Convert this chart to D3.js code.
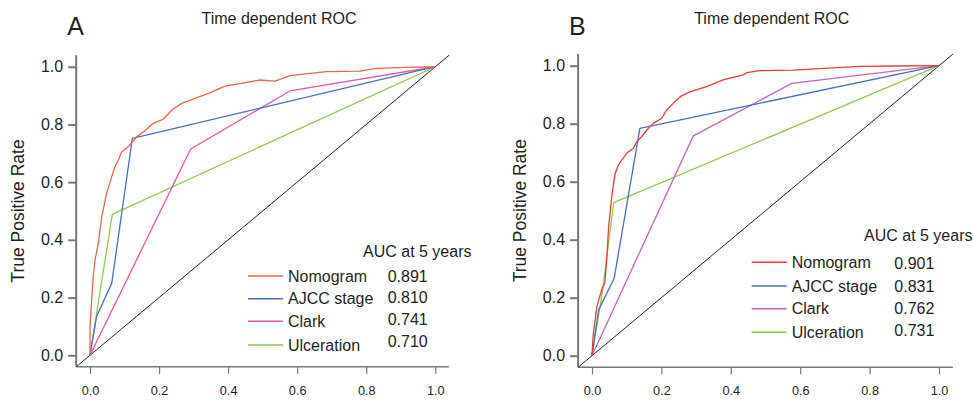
<!DOCTYPE html>
<html>
<head>
<meta charset="utf-8">
<script src="https://cdn.jsdelivr.net/npm/d3@7"></script>
<style>
  body { margin: 0; background: #fff; }
  svg { display: block; font-family: "Liberation Sans", Arial, sans-serif; }
</style>
</head>
<body>
<svg id="chart" width="973" height="401"></svg>
<script>
// Daten: [FPR, TPR] Paare
const nomogramA = [[0,0],[0,0.099],[0.0048,0.192],[0.0097,0.278],[0.0145,0.330],[0.024,0.388],[0.034,0.480],
  [0.048,0.561],[0.063,0.619],[0.072,0.653],[0.082,0.677],[0.092,0.705],[0.111,0.723],[0.135,0.757],
  [0.159,0.778],[0.183,0.804],[0.212,0.818],[0.237,0.850],[0.266,0.873],[0.304,0.890],[0.343,0.908],
  [0.391,0.933],[0.439,0.942],[0.492,0.954],[0.536,0.950],[0.579,0.969],[0.685,0.983],[0.782,0.985],
  [0.830,0.994],[0.917,0.998],[1,1]];
const ajccA = [[0,0],[0.019,0.134],[0.063,0.250],[0.1226,0.752],[1,1]];
const clarkA = [[0,0],[0.2916,0.7148],[0.579,0.916],[1,1]];
const ulcerA = [[0,0],[0.0646,0.4886],[1,1]];

const nomogramB = [[0,0],[0.003,0.066],[0.008,0.112],[0.014,0.169],[0.029,0.232],[0.037,0.250],[0.043,0.341],
  [0.048,0.445],[0.058,0.560],[0.067,0.629],[0.077,0.660],[0.086,0.675],[0.100,0.698],[0.119,0.715],
  [0.129,0.738],[0.143,0.755],[0.158,0.778],[0.177,0.801],[0.201,0.819],[0.215,0.847],[0.239,0.876],
  [0.258,0.896],[0.282,0.910],[0.330,0.928],[0.378,0.951],[0.436,0.968],[0.446,0.976],[0.484,0.983],
  [0.580,0.985],[0.772,0.998],[0.868,0.999],[1,1]];
const ajccB = [[0,0],[0.019,0.158],[0.064,0.267],[0.138,0.784],[1,1]];
const clarkB = [[0,0],[0.292,0.758],[0.5755,0.939],[1,1]];
const ulcerB = [[0,0],[0.030,0.220],[0.0625,0.528],[1,1]];

const seriesNames = ["Nomogram", "AJCC stage", "Clark", "Ulceration"];
const aucA = ["0.891", "0.810", "0.741", "0.710"];
const aucB = ["0.901", "0.831", "0.762", "0.731"];
const tickValues = [0, 0.2, 0.4, 0.6, 0.8, 1.0];

const svg = d3.select("#chart");
const textColor = "#231f20";
const axisColor = "#777";

function drawPanel(cfg) {
    const x = d3.scaleLinear().domain([-0.04, 1.04]).range([cfg.left, cfg.right]);
    const y = d3.scaleLinear().domain([-0.04, 1.04]).range([cfg.bottom, cfg.top]);
    const g = svg.append("g");

    // Buchstabe und Titel
    g.append("text").attr("x", cfg.left - 9).attr("y", 35)
        .style("font-size", "25px").style("fill", textColor).text(cfg.letter);
    g.append("text").attr("x", cfg.titleX).attr("y", 24).attr("text-anchor", "middle")
        .style("font-size", "16px").style("fill", textColor).text("Time dependent ROC");

    // Y-Achse
    const yAxis = g.append("g").attr("transform", `translate(${cfg.left},0)`)
        .call(d3.axisLeft(y).tickValues(tickValues).tickFormat(d3.format(".1f")).tickSize(8).tickPadding(5));
    yAxis.select(".domain").remove();
    yAxis.selectAll("line").style("stroke", axisColor).style("stroke-width", 2);
    yAxis.selectAll("text").style("font-size", "16px").style("fill", textColor)
        .style("font-family", "Liberation Sans, Arial, sans-serif");

    // X-Achse
    const xAxis = g.append("g").attr("transform", `translate(0,${cfg.bottom})`)
        .call(d3.axisBottom(x).tickValues(tickValues).tickFormat(d3.format(".1f")).tickSize(7).tickPadding(12));
    xAxis.select(".domain").remove();
    xAxis.selectAll("line").style("stroke", axisColor).style("stroke-width", 1.2);
    xAxis.selectAll("text").style("font-size", "12.7px").style("fill", textColor)
        .style("font-family", "Liberation Sans, Arial, sans-serif");

    // Achsenlinien (L-Form)
    g.append("line").attr("x1", cfg.left).attr("x2", cfg.left).attr("y1", cfg.top).attr("y2", cfg.bottom)
        .style("stroke", axisColor).style("stroke-width", 2);
    g.append("line").attr("x1", cfg.left).attr("x2", cfg.right).attr("y1", cfg.bottom).attr("y2", cfg.bottom)
        .style("stroke", axisColor).style("stroke-width", 1.5);

    // Y-Beschriftung
    g.append("text")
        .attr("transform", `translate(${cfg.left - 58},${(cfg.top + cfg.bottom) / 2}) rotate(-90)`)
        .attr("text-anchor", "middle").attr("dy", "0.35em")
        .style("font-size", "17.5px").style("fill", textColor).text("True Positive Rate");

    // Diagonale
    g.append("line").attr("x1", x(-0.04)).attr("y1", y(-0.04)).attr("x2", x(1.04)).attr("y2", y(1.04))
        .style("stroke", "#222").style("stroke-width", 1);

    const line = d3.line().x(d => x(d[0])).y(d => y(d[1]));

    // Kurven (Ulceration zuerst, Nomogram oben)
    const order = [3, 2, 1, 0];
    order.forEach(i => {
        g.append("path").datum(cfg.series[i]).attr("d", line)
            .style("fill", "none").style("stroke", cfg.colors[i]).style("stroke-width", 1.3)
            .style("stroke-linejoin", "round");
    });

    // Legende
    g.append("text").attr("x", cfg.legTitleX).attr("y", cfg.legTitleY).attr("dy", "0.35em")
        .style("font-size", "16px").style("fill", textColor).text("AUC at 5 years");
    seriesNames.forEach((name, i) => {
        const ry = cfg.rowY[i];
        g.append("line").attr("x1", cfg.legLineX).attr("x2", cfg.legLineX + 35).attr("y1", ry).attr("y2", ry)
            .style("stroke", cfg.colors[i]).style("stroke-width", 1.5);
        g.append("text").attr("x", cfg.legLineX + 40).attr("y", ry).attr("dy", "0.35em")
            .style("font-size", "16px").style("fill", textColor).text(name);
        g.append("text").attr("x", cfg.valueX).attr("y", cfg.valY[i]).attr("dy", "0.35em")
            .style("font-size", "16px").style("fill", textColor).text(cfg.auc[i]);
    });
}

drawPanel({
    letter: "A", left: 76.2, right: 449.1, top: 55.2, bottom: 366.8, titleX: 279,
    series: [nomogramA, ajccA, clarkA, ulcerA],
    colors: ["#F0654A", "#4670C0", "#E05AA5", "#8FC94A"],
    auc: aucA,
    legTitleX: 363, legTitleY: 251.7, legLineX: 248,
    rowY: [276, 298.7, 321.3, 345], valueX: 387.7, valY: [276, 297, 319, 341.7]
});

drawPanel({
    letter: "B", left: 578.1, right: 952.9, top: 54.1, bottom: 367.3, titleX: 771.7,
    series: [nomogramB, ajccB, clarkB, ulcerB],
    colors: ["#EB3D37", "#4670C4", "#C466C0", "#8FC94A"],
    auc: aucB,
    legTitleX: 864, legTitleY: 235, legLineX: 751.7,
    rowY: [262.3, 286, 308.7, 332.3], valueX: 894.3, valY: [263.3, 286, 308.3, 330]
});
</script>
</body>
</html>
